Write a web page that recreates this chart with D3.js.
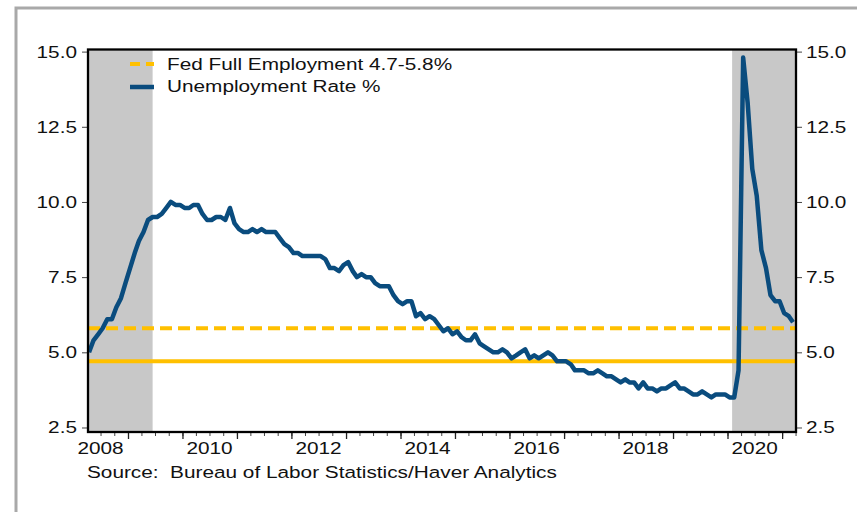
<!DOCTYPE html>
<html>
<head>
<meta charset="utf-8">
<script src="https://cdn.jsdelivr.net/npm/d3@7"></script>
<style>
  body { margin: 0; background: #fff; }
  text { font-family: "Liberation Sans", Arial, sans-serif; fill: #111; }
</style>
</head>
<body>
<svg id="chart" width="857" height="512"></svg>
<script>
// monthly unemployment rate, starting April 2008
const firstMonth = [2008, 3];
const unemploymentRate = [
  5.0, 5.4, 5.6, 5.8, 6.1, 6.1, 6.5, 6.8, 7.3,
  7.8, 8.3, 8.7, 9.0, 9.4, 9.5, 9.5, 9.6, 9.8, 10.0, 9.9, 9.9,
  9.8, 9.8, 9.9, 9.9, 9.6, 9.4, 9.4, 9.5, 9.5, 9.4, 9.8, 9.3,
  9.1, 9.0, 9.0, 9.1, 9.0, 9.1, 9.0, 9.0, 9.0, 8.8, 8.6, 8.5,
  8.3, 8.3, 8.2, 8.2, 8.2, 8.2, 8.2, 8.1, 7.8, 7.8, 7.7, 7.9,
  8.0, 7.7, 7.5, 7.6, 7.5, 7.5, 7.3, 7.2, 7.2, 7.2, 6.9, 6.7,
  6.6, 6.7, 6.7, 6.2, 6.3, 6.1, 6.2, 6.1, 5.9, 5.7, 5.8, 5.6,
  5.7, 5.5, 5.4, 5.4, 5.6, 5.3, 5.2, 5.1, 5.0, 5.0, 5.1, 5.0,
  4.8, 4.9, 5.0, 5.1, 4.8, 4.9, 4.8, 4.9, 5.0, 4.9, 4.7, 4.7,
  4.7, 4.6, 4.4, 4.4, 4.4, 4.3, 4.3, 4.4, 4.3, 4.2, 4.2, 4.1,
  4.0, 4.1, 4.0, 4.0, 3.8, 4.0, 3.8, 3.8, 3.7, 3.8, 3.8, 3.9,
  4.0, 3.8, 3.8, 3.7, 3.6, 3.6, 3.7, 3.6, 3.5, 3.6, 3.6, 3.6,
  3.5, 3.5, 4.4, 14.8, 13.3, 11.1, 10.2, 8.4, 7.8, 6.9, 6.7, 6.7,
  6.3, 6.2, 6.0
];
const recessions = [
  [new Date(2007, 11, 1), new Date(2009, 5, 15)],
  [new Date(2020, 1, 1), new Date(2021, 2, 30)]
];
const fedFullEmployment = [4.7, 5.8];
const yTicks = [2.5, 5.0, 7.5, 10.0, 12.5, 15.0];
const yearLabels = [2008, 2010, 2012, 2014, 2016, 2018, 2020];
const legendLabels = ["Fed Full Employment 4.7-5.8%", "Unemployment Rate %"];
const sourceNote = "Source:  Bureau of Labor Statistics/Haver Analytics";

const plotLeft = 88, plotRight = 796, plotTop = 49.5, plotBottom = 432;
const blue = "#0A4C7E", yellow = "#FFC000", shade = "#C8C8C8";
const sx = 1.26; // text in the picture is stretched sideways

const svg = d3.select("#chart");

// outer grey frame
svg.append("rect")
  .attr("x", 16).attr("y", 8)
  .attr("width", 1000).attr("height", 1000)
  .attr("fill", "none")
  .attr("stroke", "#A9A9A9")
  .attr("stroke-width", 3);

const x = d3.scaleTime()
  .domain([new Date(2008, 3, 8), new Date(2021, 3, 4)])
  .range([plotLeft, plotRight]);
const y = d3.scaleLinear()
  .domain([2.35, 15.07])
  .range([plotBottom, plotTop]);

function label(g, px, py, str, anchor) {
  return g.append("text")
    .attr("transform", `translate(${px},${py}) scale(${sx},1)`)
    .attr("text-anchor", anchor || "start")
    .style("font-size", "16.5px")
    .text(str);
}

svg.append("clipPath").attr("id", "plot")
  .append("rect")
  .attr("x", plotLeft).attr("y", plotTop)
  .attr("width", plotRight - plotLeft).attr("height", plotBottom - plotTop);

const plot = svg.append("g").attr("clip-path", "url(#plot)");

plot.selectAll(".recession")
  .data(recessions)
  .enter().append("rect")
  .attr("class", "recession")
  .attr("x", d => x(d[0]))
  .attr("width", d => x(d[1]) - x(d[0]))
  .attr("y", plotTop)
  .attr("height", plotBottom - plotTop)
  .attr("fill", shade);

// fed full employment band edges
plot.append("line")
  .attr("x1", plotLeft).attr("x2", plotRight)
  .attr("y1", y(fedFullEmployment[1])).attr("y2", y(fedFullEmployment[1]))
  .attr("stroke", yellow).attr("stroke-width", 4)
  .attr("stroke-dasharray", "12,6");
plot.append("line")
  .attr("x1", plotLeft).attr("x2", plotRight)
  .attr("y1", y(fedFullEmployment[0])).attr("y2", y(fedFullEmployment[0]))
  .attr("stroke", yellow).attr("stroke-width", 4);

const data = unemploymentRate.map((v, i) => [new Date(firstMonth[0], firstMonth[1] + i, 15), v]);

plot.append("path")
  .datum(data)
  .attr("fill", "none")
  .attr("stroke", blue)
  .attr("stroke-width", 4.5)
  .attr("stroke-linejoin", "round")
  .attr("d", d3.line().x(d => x(d[0])).y(d => y(d[1])));

// y axes, ticks outside on both sides
const yLeft = d3.axisLeft(y).tickValues(yTicks).tickSize(6).tickFormat("");
const yRight = d3.axisRight(y).tickValues(yTicks).tickSize(6).tickFormat("");
svg.append("g").attr("transform", `translate(${plotLeft},0)`).call(yLeft)
  .call(g => g.select(".domain").remove())
  .selectAll("line").attr("stroke", "#444");
svg.append("g").attr("transform", `translate(${plotRight},0)`).call(yRight)
  .call(g => g.select(".domain").remove())
  .selectAll("line").attr("stroke", "#444");

yTicks.forEach(t => {
  label(svg, 77, y(t) + 6, t.toFixed(1), "end");
  label(svg, 806, y(t) + 6, t.toFixed(1), "start");
});

// x axis: quarterly minor ticks, yearly major ticks
const xMinor = d3.axisBottom(x).ticks(d3.timeMonth.every(3)).tickSize(4).tickFormat("");
const xMajor = d3.axisBottom(x).ticks(d3.timeYear.every(1)).tickSize(7).tickFormat("");
svg.append("g").attr("transform", `translate(0,${plotBottom})`).call(xMinor)
  .call(g => g.select(".domain").remove())
  .selectAll("line").attr("stroke", "#444");
svg.append("g").attr("transform", `translate(0,${plotBottom})`).call(xMajor)
  .call(g => g.select(".domain").remove())
  .selectAll("line").attr("stroke", "#222").attr("stroke-width", 1.3);

yearLabels.forEach(yr => {
  label(svg, x(new Date(yr, 6, 1)), 454, String(yr), "middle");
});

// plot frame
svg.append("rect")
  .attr("x", plotLeft).attr("y", plotTop)
  .attr("width", plotRight - plotLeft).attr("height", plotBottom - plotTop)
  .attr("fill", "none")
  .attr("stroke", "#000")
  .attr("stroke-width", 2.3);

// legend
const legend = svg.append("g");
legend.append("line")
  .attr("x1", 130).attr("x2", 154).attr("y1", 64).attr("y2", 64)
  .attr("stroke", yellow).attr("stroke-width", 4)
  .attr("stroke-dasharray", "10,6");
legend.append("line")
  .attr("x1", 130).attr("x2", 154).attr("y1", 87).attr("y2", 87)
  .attr("stroke", blue).attr("stroke-width", 4.5);
label(legend, 167, 69.5, legendLabels[0]);
label(legend, 167, 92, legendLabels[1]);

label(svg, 87, 478, sourceNote)
  .attr("xml:space", "preserve")
  .style("white-space", "pre");
</script>
</body>
</html>
